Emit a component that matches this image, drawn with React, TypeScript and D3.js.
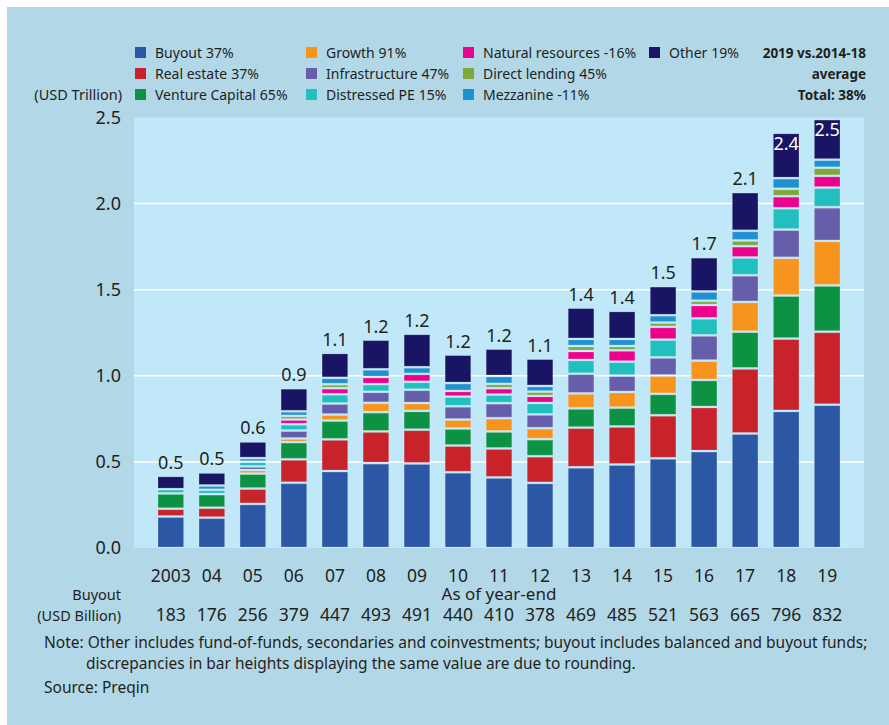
import * as d3 from 'd3';

// year-end labels
const years = ['2003', '04', '05', '06', '07', '08', '09', '10', '11', '12', '13', '14', '15', '16', '17', '18', '19'];
// buyout AUM, USD billion (also the bottom row)
const buyoutBillion = [183, 176, 256, 379, 447, 493, 491, 440, 410, 378, 469, 485, 521, 563, 665, 796, 832];
// other strategies, USD trillion
const realEstate = [0.045, 0.058, 0.089, 0.136, 0.184, 0.184, 0.196, 0.155, 0.168, 0.155, 0.23, 0.221, 0.25, 0.256, 0.378, 0.42, 0.424];
const ventureCapital = [0.089, 0.079, 0.087, 0.1, 0.109, 0.112, 0.109, 0.099, 0.099, 0.099, 0.112, 0.109, 0.124, 0.157, 0.213, 0.25, 0.269];
const growth = [0, 0, 0.021, 0.021, 0.035, 0.054, 0.046, 0.052, 0.077, 0.064, 0.087, 0.091, 0.107, 0.112, 0.173, 0.219, 0.258];
const infrastructure = [0, 0, 0.021, 0.046, 0.064, 0.064, 0.077, 0.077, 0.087, 0.08, 0.114, 0.095, 0.105, 0.147, 0.155, 0.164, 0.196];
const distressedPE = [0.025, 0.025, 0.027, 0.037, 0.054, 0.045, 0.046, 0.056, 0.05, 0.066, 0.08, 0.081, 0.103, 0.099, 0.103, 0.124, 0.114];
const naturalResources = [0, 0, 0, 0.027, 0.035, 0.041, 0.046, 0.033, 0.037, 0.041, 0.052, 0.066, 0.074, 0.077, 0.066, 0.07, 0.068];
const directLending = [0, 0, 0, 0.021, 0.023, 0, 0, 0, 0.025, 0.025, 0.029, 0.025, 0.025, 0.025, 0.033, 0.043, 0.047];
const mezzanine = [0, 0.025, 0.021, 0.027, 0.037, 0.045, 0.039, 0.046, 0.046, 0.033, 0.041, 0.041, 0.043, 0.054, 0.056, 0.062, 0.047];
const other = [0.077, 0.076, 0.097, 0.134, 0.145, 0.172, 0.194, 0.165, 0.159, 0.159, 0.182, 0.163, 0.169, 0.199, 0.225, 0.263, 0.236];
// rounded totals printed over the bars
const totalLabels = ['0.5', '0.5', '0.6', '0.9', '1.1', '1.2', '1.2', '1.2', '1.2', '1.1', '1.4', '1.4', '1.5', '1.7', '2.1', '2.4', '2.5'];

const seriesNames = ['Buyout', 'Real estate', 'Venture Capital', 'Growth', 'Infrastructure', 'Distressed PE', 'Natural resources', 'Direct lending', 'Mezzanine', 'Other'];
const seriesChange = ['37%', '37%', '65%', '91%', '47%', '15%', '-16%', '45%', '-11%', '19%'];
const seriesColors = ['#2b57a5', '#c8232b', '#0d9244', '#f7941d', '#665eaa', '#22bfbf', '#ec008c', '#7ea83a', '#1f90d0', '#1a1464'];
const yTicks = [0, 0.5, 1, 1.5, 2, 2.5];

const W = 889;
const H = 725;
const plot = { left: 134, right: 864, top: 117.5, bottom: 548 };
const font = '"Noto Sans", "Open Sans", sans-serif';
const ink = '#231f20';

const App = () => {
  const allSeries = [
    buyoutBillion.map(v => v / 1000),
    realEstate, ventureCapital, growth, infrastructure, distressedPE,
    naturalResources, directLending, mezzanine, other,
  ];
  const rows = years.map((yr, i) => {
    const row: Record<string, any> = { year: yr };
    seriesNames.forEach((s, k) => { row[s] = allSeries[k][i]; });
    return row;
  });
  const stacked = d3.stack().keys(seriesNames)(rows as any);

  const x = d3.scaleBand().domain(years).range([158, 840]).paddingInner(0.375).paddingOuter(0);
  const y = d3.scaleLinear().domain([0, 2.5]).range([plot.bottom, plot.top]);
  const bw = x.bandwidth();

  // legend layout: four columns by three rows
  const legendCols = [135, 306, 463, 649];
  const legendRows = [53, 74, 95];
  const legendPos = [
    [0, 0], [0, 1], [0, 2], [1, 0], [1, 1], [1, 2], [2, 0], [2, 1], [2, 2], [3, 0],
  ];

  return (
    <svg width={W} height={H} style={{ position: 'absolute', left: 0, top: 0 }} fontFamily={font}>
      <rect x={0} y={0} width={W} height={H} fill="#ffffff" />
      <rect x={7} y={7} width={W - 7} height={H - 7} fill="#b2d8e8" />
      <rect x={plot.left} y={plot.top} width={plot.right - plot.left} height={plot.bottom - plot.top} fill="#c1e8f8" />

      {yTicks.filter(t => t > 0 && t < 2.5).map(t => (
        <line key={t} x1={plot.left} x2={plot.right} y1={y(t)} y2={y(t)} stroke="#ffffff" strokeWidth={1.5} />
      ))}

      {yTicks.map(t => (
        <text key={t} x={121} y={y(t)} dy="0.35em" textAnchor="end" fontSize={18} fill={ink}>
          {d3.format('.1f')(t)}
        </text>
      ))}

      {stacked.map((layer, k) => (
        <g key={layer.key} fill={seriesColors[k]}>
          {layer.map((d, i) => {
            const h = y(d[0]) - y(d[1]) - 2;
            if (h <= 0) return null;
            return (
              <rect key={i} x={x(years[i])} y={y(d[1]) + 1} width={bw} height={h}
                stroke="#ffffff" strokeOpacity={0.25} strokeWidth={0.8} />
            );
          })}
        </g>
      ))}

      {years.map((yr, i) => {
        const top = stacked[stacked.length - 1][i][1];
        const inside = y(top) - 22 < plot.top;
        return (
          <text key={yr} x={(x(yr) as number) + bw / 2} y={inside ? y(top) + 17 : y(top) - 7}
            textAnchor="middle" fontSize={18} fill={inside ? '#ffffff' : ink}>
            {totalLabels[i]}
          </text>
        );
      })}

      {years.map((yr, i) => (
        <g key={yr}>
          <text x={(x(yr) as number) + bw / 2} y={582} textAnchor="middle" fontSize={17.5} fill={ink}>{yr}</text>
          <text x={(x(yr) as number) + bw / 2} y={621} textAnchor="middle" fontSize={17.5} fill={ink}>{buyoutBillion[i]}</text>
        </g>
      ))}
      <text x={499} y={600} textAnchor="middle" fontSize={17} fill={ink}>As of year-end</text>
      <g fontSize={14.5} fill={ink} textAnchor="end">
        <text x={121} y={600}>Buyout</text>
        <text x={121} y={621}>(USD Billion)</text>
        <text x={122} y={100}>(USD Trillion)</text>
      </g>

      {seriesNames.map((s, k) => {
        const [c, r] = legendPos[k];
        const lx = legendCols[c];
        const ly = legendRows[r];
        return (
          <g key={s}>
            <rect x={lx} y={ly - 6} width={11} height={11} fill={seriesColors[k]} />
            <text x={lx + 20} y={ly} dy="0.35em" fontSize={14} fill={ink}>
              {s}<tspan dx={4}>{seriesChange[k]}</tspan>
            </text>
          </g>
        );
      })}

      <g fontWeight="bold" fontSize={13.5} fill={ink} textAnchor="end">
        <text x={866} y={53} dy="0.35em">2019 vs.2014-18</text>
        <text x={866} y={74} dy="0.35em">average</text>
        <text x={866} y={95} dy="0.35em">Total: 38%</text>
      </g>

      <g fontSize={15.5} fill={ink}>
        <text x={44} y={648}>Note: Other includes fund-of-funds, secondaries and coinvestments; buyout includes balanced and buyout funds;</text>
        <text x={86} y={669}>discrepancies in bar heights displaying the same value are due to rounding.</text>
        <text x={44} y={693}>Source: Preqin</text>
      </g>
    </svg>
  );
};

export default App;
